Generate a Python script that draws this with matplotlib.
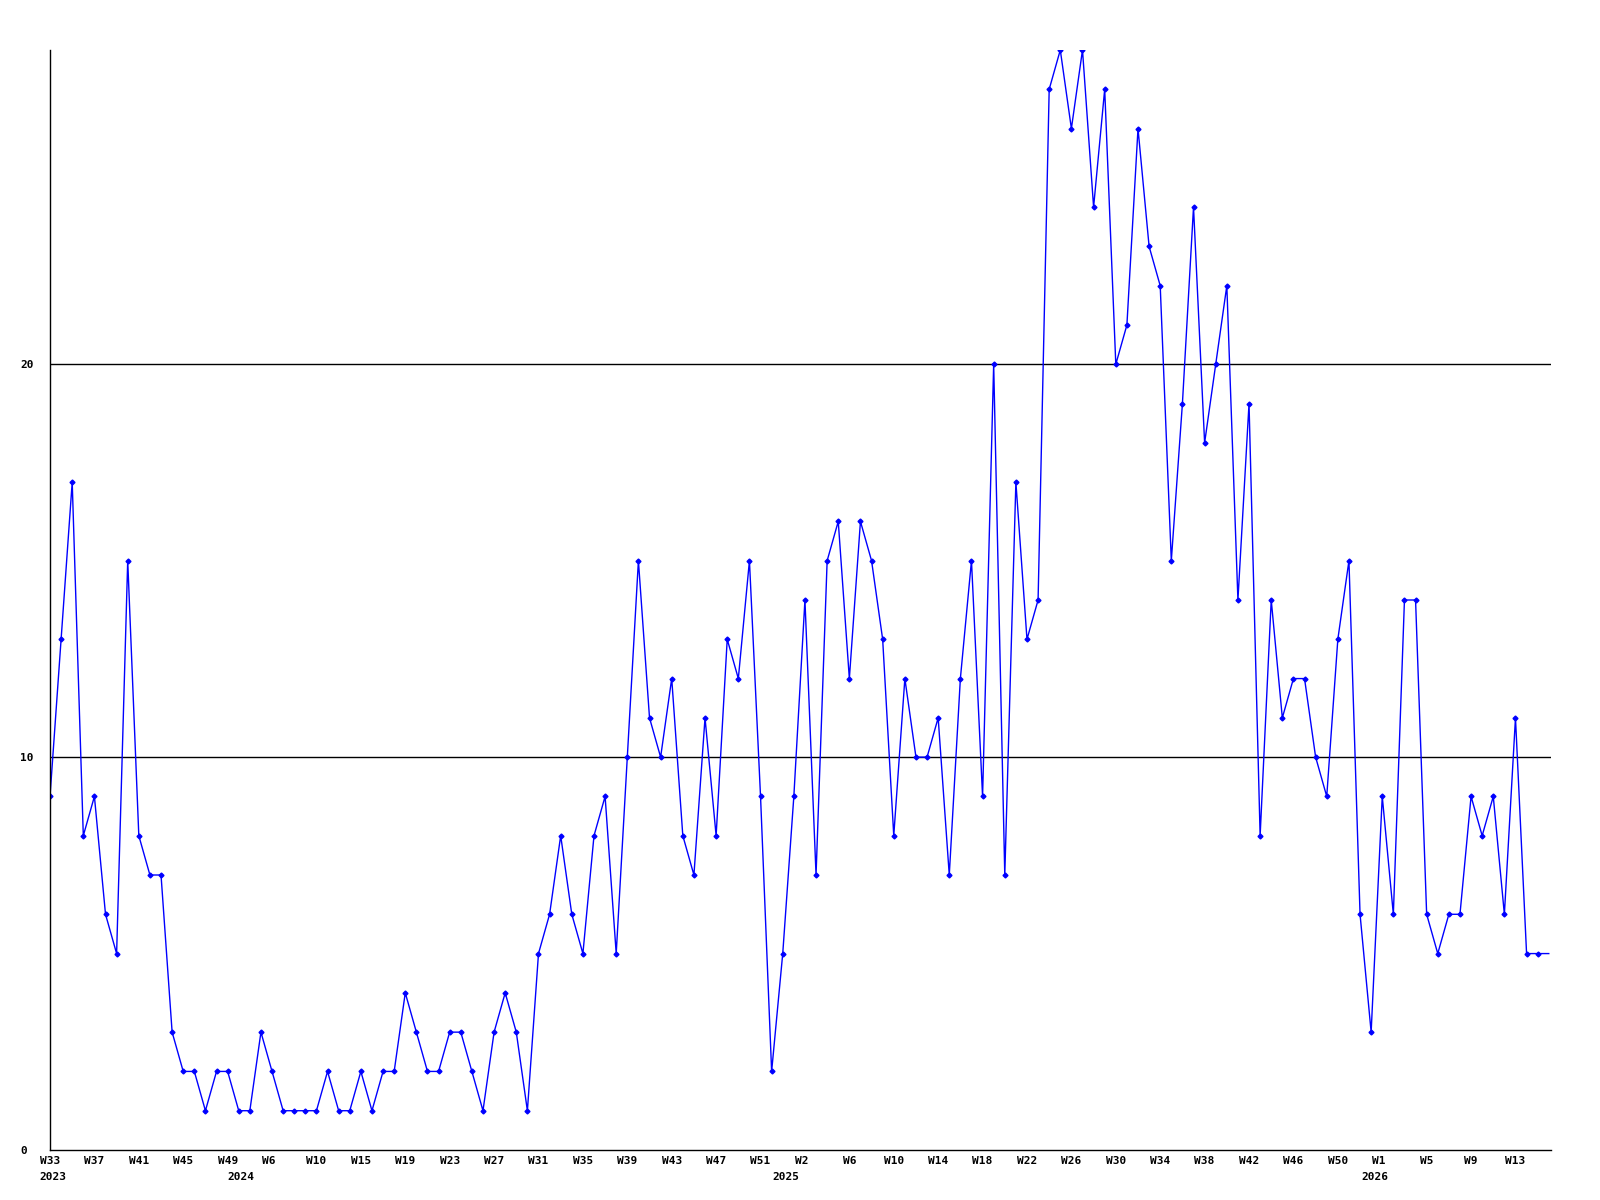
import matplotlib
matplotlib.use("Agg")
import matplotlib.pyplot as plt
import matplotlib.transforms as mtransforms

# weekly values
values = [9, 13, 17, 8, 9, 6, 5, 15, 8, 7, 7, 3, 2, 2, 1, 2, 2, 1, 1, 3,
          2, 1, 1, 1, 1, 2, 1, 1, 2, 1, 2, 2, 4, 3, 2, 2, 3, 3, 2, 1,
          3, 4, 3, 1, 5, 6, 8, 6, 5, 8, 9, 5, 10, 15, 11, 10, 12, 8, 7, 11,
          8, 13, 12, 15, 9, 2, 5, 9, 14, 7, 15, 16, 12, 16, 15, 13, 8, 12, 10, 10,
          11, 7, 12, 15, 9, 20, 7, 17, 13, 14, 27, 28, 26, 28, 24, 27, 20, 21, 26, 23,
          22, 15, 19, 24, 18, 20, 22, 14, 19, 8, 14, 11, 12, 12, 10, 9, 13, 15, 6, 3,
          9, 6, 14, 14, 6, 5, 6, 6, 9, 8, 9, 6, 11, 5, 5, 5]

week_labels = ["W33", "W37", "W41", "W45", "W49", "W6", "W10", "W15", "W19", "W23",
               "W27", "W31", "W35", "W39", "W43", "W47", "W51", "W2", "W6", "W10",
               "W14", "W18", "W22", "W26", "W30", "W34", "W38", "W42", "W46", "W50",
               "W1", "W5", "W9", "W13"]
week_pos = [0, 4, 8, 12, 16, 19.7, 24, 28, 32, 36,
            40, 44, 48, 52, 56, 60, 64, 67.7, 72, 76,
            80, 84, 88, 92, 96, 100, 104, 108, 112, 116,
            119.7, 124, 128, 132]
years = ["2023", "2024", "2025", "2026"]
year_pos = [0.3, 17.2, 66.3, 119.3]

fig = plt.figure(figsize=(16, 12), dpi=100)
ax = fig.add_axes([50/1600, 50/1200, 1501/1600, 1100/1200])

x = list(range(len(values)))
ax.plot(x, values, color="#0000ff", lw=1.0,
        marker="D", ms=2.5, markevery=list(range(len(values) - 1)))

ax.set_xlim(0, 135.2)
ax.set_ylim(0, 28)
ax.axhline(10, color="black", lw=1, zorder=0)
ax.axhline(20, color="black", lw=1, zorder=0)

for s in ["top", "right"]:
    ax.spines[s].set_visible(False)
for s in ["left", "bottom"]:
    ax.spines[s].set_linewidth(1)

font = dict(family="DejaVu Sans Mono", weight="bold", size=8)
ax.set_yticks([0, 10, 20])
ax.set_yticklabels(["0", "10", "20"], ha="left", **font)
ax.tick_params(axis="y", length=0, pad=21.6)
ax.set_xticks(week_pos)
ax.set_xticklabels(week_labels, **font)
ax.tick_params(axis="x", length=0, pad=4)

trans = mtransforms.blended_transform_factory(ax.transData, ax.transAxes)
for yr, p in zip(years, year_pos):
    ax.text(p, -0.0245, yr, transform=trans, ha="center", va="center", **font)

fig.savefig("out.png", dpi=100)
